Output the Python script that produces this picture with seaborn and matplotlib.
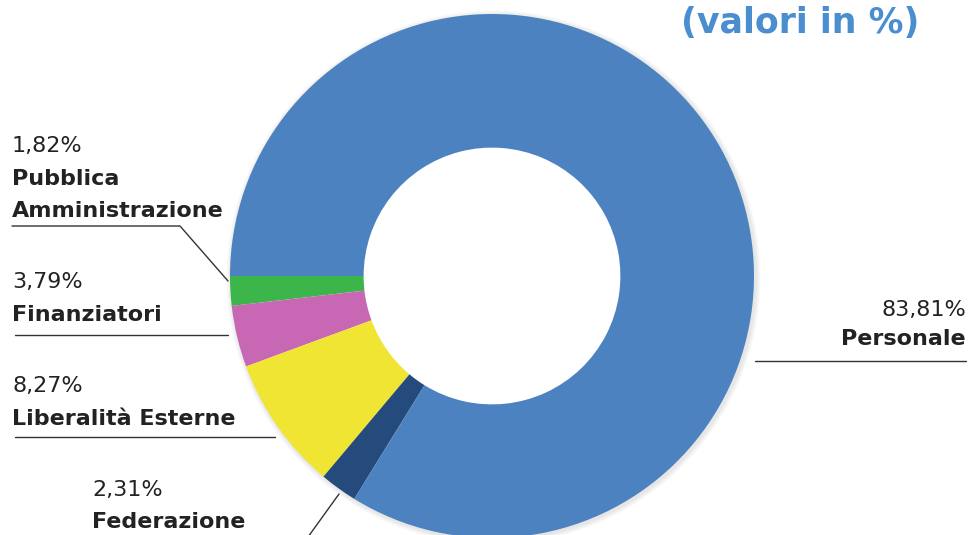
import matplotlib
matplotlib.use("Agg")
import matplotlib.pyplot as plt
import seaborn as sns
from matplotlib.patches import Wedge

categories = ["Pubblica\nAmministrazione", "Finanziatori", "Liberalità Esterne",
              "Federazione", "Personale"]
values = [1.82, 3.79, 8.27, 2.31, 83.81]
pct_labels = ["1,82%", "3,79%", "8,27%", "2,31%", "83,81%"]
colors = ["#3cb54b", "#c868b4", "#f0e532", "#254b7d", "#4c82c0"]

sns.set_theme(style="white")
plt.rcParams["font.family"] = ["DejaVu Sans"]

W, H = 971, 535
fig = plt.figure(figsize=(W / 100, H / 100), dpi=100)
ax = fig.add_axes([0, 0, 1, 1])


def py(y):
    # image pixel row -> data y
    return H - y


cx, cy, R = 492, py(276), 262
hole = R * 0.49

# soft shadow just outside the ring
for k in range(1, 6):
    ax.add_patch(Wedge((cx + 1.5, cy - 1.5), R + k, 0, 360, width=k + 20,
                       color="#808080", alpha=0.04, lw=0, zorder=0))

ax.pie(values, colors=colors, startangle=180, counterclock=True,
       center=(cx, cy), radius=R, frame=True,
       wedgeprops=dict(width=R - hole, linewidth=0, zorder=1))

ax.set_xlim(0, W)
ax.set_ylim(0, H)
ax.set_aspect("equal")
ax.axis("off")

dark = "#222222"
fs = 16
line_step = 32

# label blocks: (pct, name, x, pct baseline, name baseline, ha)
blocks = [
    (pct_labels[0], categories[0], 12, 152, 185, "left"),
    (pct_labels[1], categories[1], 12, 288, 321, "left"),
    (pct_labels[2], categories[2], 12, 392, 425, "left"),
    (pct_labels[3], categories[3], 92, 496, 528, "left"),
    (pct_labels[4], categories[4], 966, 316, 345, "right"),
]
for pct, name, x, yp, yn, ha in blocks:
    ax.text(x, py(yp), pct, fontsize=fs, color=dark, ha=ha, va="baseline")
    for i, part in enumerate(name.split("\n")):
        ax.text(x, py(yn + i * line_step), part, fontsize=fs, color=dark,
                ha=ha, va="baseline", fontweight="bold")

# leader lines
lw, lc = 1.0, "#333333"
ax.plot([12, 180, 228], [py(226), py(226), py(281)], color=lc, lw=lw)
ax.plot([15, 228], [py(335), py(335)], color=lc, lw=lw)
ax.plot([15, 275], [py(437), py(437)], color=lc, lw=lw)
ax.plot([308, 339], [py(537), py(494)], color=lc, lw=lw)
ax.plot([755, 966], [py(361), py(361)], color=lc, lw=lw)

ax.text(800, py(33), "(valori in %)", fontsize=25, fontweight="bold",
        color="#4a8ed0", ha="center", va="baseline")

fig.savefig("out.png", dpi=100, facecolor="white")
